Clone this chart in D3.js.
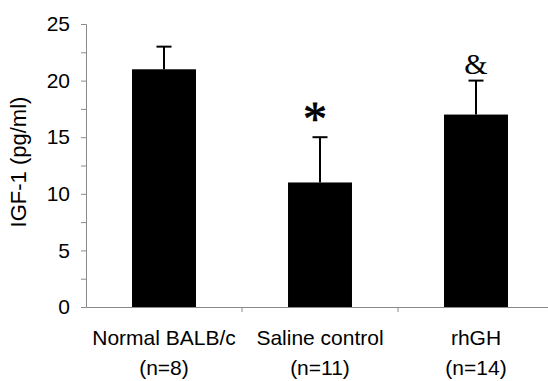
<!DOCTYPE html>
<html>
<head>
<meta charset="utf-8">
<script src="https://cdn.jsdelivr.net/npm/d3@7"></script>
<style>
  body { margin: 0; background: #fff; }
  svg { display: block; }
</style>
</head>
<body>
<div id="chart"></div>
<script>
const categories = ["Normal BALB/c", "Saline control", "rhGH"];
const groupSizes = ["(n=8)", "(n=11)", "(n=14)"];
const means = [21, 11, 17];
const errors = [2, 4, 3];
const marks = ["", "*", "&"];
const yTicks = [0, 2.5, 5, 7.5, 10, 12.5, 15, 17.5, 20, 22.5, 25];

const width = 548, height = 381;
const axisColor = "#8a8a8a";

const svg = d3.select("#chart")
    .append("svg")
    .attr("width", width)
    .attr("height", height);

// Scales
const x = d3.scaleBand()
    .domain(categories)
    .range([86, 554])
    .paddingInner(0.59)
    .paddingOuter(0.295);

const y = d3.scaleLinear()
    .domain([0, 25])
    .range([307, 24]);

// Bars
svg.selectAll("rect.bar")
    .data(means)
    .enter()
    .append("rect")
    .attr("class", "bar")
    .attr("x", (d, i) => x(categories[i]))
    .attr("y", d => y(d))
    .attr("width", x.bandwidth())
    .attr("height", d => y(0) - y(d))
    .attr("fill", "#000");

// Error bars (upper only)
const cx = i => x(categories[i]) + x.bandwidth() / 2;
const err = svg.append("g").attr("stroke", "#000").attr("stroke-width", 2);
means.forEach((m, i) => {
  err.append("line")
      .attr("x1", cx(i)).attr("x2", cx(i))
      .attr("y1", y(m)).attr("y2", y(m + errors[i]));
  err.append("line")
      .attr("x1", cx(i) - 7.5).attr("x2", cx(i) + 7.5)
      .attr("y1", y(m + errors[i])).attr("y2", y(m + errors[i]));
});

// Significance marks
svg.append("text")
    .attr("x", cx(1) - 5)
    .attr("y", y(means[1] + errors[1]) - 2)
    .attr("text-anchor", "middle")
    .attr("font-family", "Liberation Serif, serif")
    .attr("font-size", 48)
    .attr("stroke", "#000")
    .attr("stroke-width", 0.8)
    .text(marks[1]);

svg.append("text")
    .attr("x", cx(2))
    .attr("y", y(means[2] + errors[2]) - 7)
    .attr("text-anchor", "middle")
    .attr("font-family", "Liberation Serif, serif")
    .attr("font-size", 30)
    .text(marks[2]);

// Y axis
const yAxis = svg.append("g")
    .attr("transform", "translate(86,0)")
    .call(d3.axisLeft(y)
        .tickValues(yTicks)
        .tickSize(5)
        .tickPadding(11)
        .tickFormat(d => d % 5 === 0 ? d : ""));
yAxis.select(".domain").attr("stroke", axisColor);
yAxis.selectAll(".tick line").attr("stroke", axisColor);
yAxis.selectAll(".tick text")
    .attr("fill", "#000")
    .attr("font-family", "Liberation Sans, Arial, sans-serif")
    .attr("font-size", 21);

// X axis
const xAxis = svg.append("g")
    .attr("transform", `translate(0,${y(0)})`)
    .call(d3.axisBottom(x).tickSize(0).tickFormat(""));
xAxis.select(".domain").attr("stroke", axisColor);

// Category boundary ticks
const bounds = categories.map(c => x(c) - x.paddingOuter() * x.step()).slice(1);
svg.selectAll("line.sep")
    .data(bounds)
    .enter()
    .append("line")
    .attr("x1", d => d).attr("x2", d => d)
    .attr("y1", y(0)).attr("y2", y(0) + 5)
    .attr("stroke", axisColor);

// Category labels
const labels = svg.append("g")
    .attr("font-family", "Liberation Sans, Arial, sans-serif")
    .attr("font-size", 21)
    .attr("text-anchor", "middle");
categories.forEach((c, i) => {
  labels.append("text").attr("x", cx(i)).attr("y", 345).text(c);
  labels.append("text").attr("x", cx(i)).attr("y", 375).text(groupSizes[i]);
});

// Y label
svg.append("text")
    .attr("transform", "translate(26,162) rotate(-90)")
    .attr("text-anchor", "middle")
    .attr("font-family", "Liberation Sans, Arial, sans-serif")
    .attr("font-size", 22)
    .text("IGF-1 (pg/ml)");
</script>
</body>
</html>
